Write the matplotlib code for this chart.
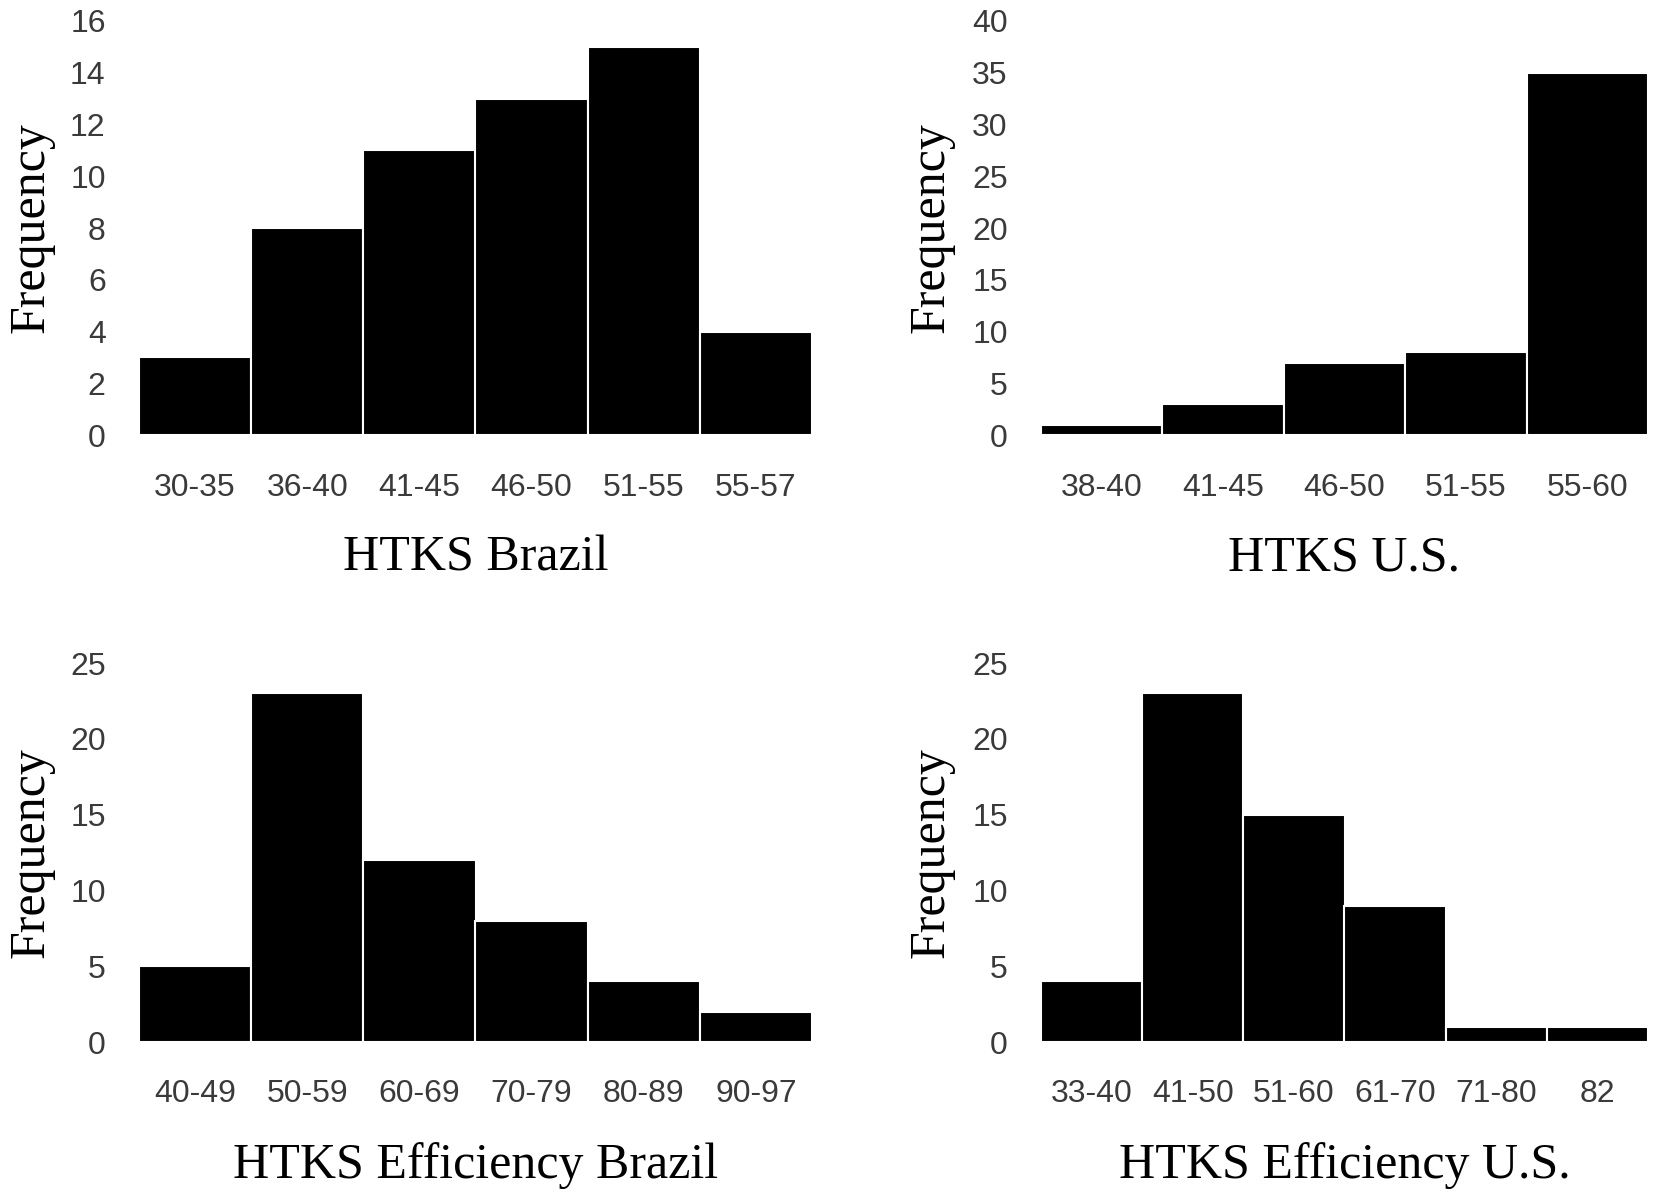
import matplotlib
matplotlib.use('Agg')
import matplotlib.pyplot as plt
import numpy as np

# ---- data ----
brazil_bins = ['30-35', '36-40', '41-45', '46-50', '51-55', '55-57']
brazil_freq = [3, 8, 11, 13, 15, 4]

us_bins = ['38-40', '41-45', '46-50', '51-55', '55-60']
us_freq = [1, 3, 7, 8, 35]

eff_brazil_bins = ['40-49', '50-59', '60-69', '70-79', '80-89', '90-97']
eff_brazil_freq = [5, 23, 12, 8, 4, 2]

eff_us_bins = ['33-40', '41-50', '51-60', '61-70', '71-80', '82']
eff_us_freq = [4, 23, 15, 9, 1, 1]

W, H = 1654, 1193
SERIF = ['Liberation Serif', 'DejaVu Serif']
TICKFONT = ['Liberation Sans Narrow', 'Liberation Sans', 'DejaVu Sans']

fig = plt.figure(figsize=(W / 100, H / 100), dpi=100)


def px_axes(x0, x1, ytop, ybot):
    return fig.add_axes([x0 / W, 1 - ybot / H, (x1 - x0) / W, (ybot - ytop) / H])


panels = [
    # (bins, freq, xlabel, ymax, ystep, axes box in px, ylabel x px)
    (brazil_bins, brazil_freq, 'HTKS Brazil', 16, 2, (139, 812, 21, 435), 55),
    (us_bins, us_freq, 'HTKS U.S.', 40, 5, (1041, 1648, 21, 435), 955),
    (eff_brazil_bins, eff_brazil_freq, 'HTKS Efficiency Brazil', 25, 5, (139, 812, 663, 1042), 55),
    (eff_us_bins, eff_us_freq, 'HTKS Efficiency U.S.', 25, 5, (1041, 1648, 663, 1042), 955),
]

for bins, freq, xlabel, ymax, ystep, box, ylab_x in panels:
    x0, x1, ytop, ybot = box
    ax = px_axes(x0, x1, ytop, ybot)
    pos = np.arange(len(bins))
    ax.bar(pos, freq, width=1.0, color='black', edgecolor='white', linewidth=1.5)
    ax.set_xlim(-0.5, len(bins) - 0.5)
    ax.set_ylim(0, ymax)
    ax.set_yticks(np.arange(0, ymax + 1, ystep))
    ax.set_xticks(pos)
    ax.set_xticklabels(bins)
    for s in ax.spines.values():
        s.set_visible(False)
    ax.tick_params(length=0, labelsize=23, labelcolor='#3a3a3a')
    ax.tick_params(axis='y', pad=24)
    ax.tick_params(axis='x', pad=27)
    for lab in ax.get_xticklabels() + ax.get_yticklabels():
        lab.set_family(TICKFONT)
    ax.set_ylabel('Frequency', family=SERIF, fontsize=36)
    ax.yaxis.set_label_coords((ylab_x - x0) / (x1 - x0), 0.5)
    ax.set_xlabel(xlabel, family=SERIF, fontsize=36)
    ax.xaxis.set_label_coords(0.5, -100 / (ybot - ytop))

fig.savefig('out.png', dpi=100)
